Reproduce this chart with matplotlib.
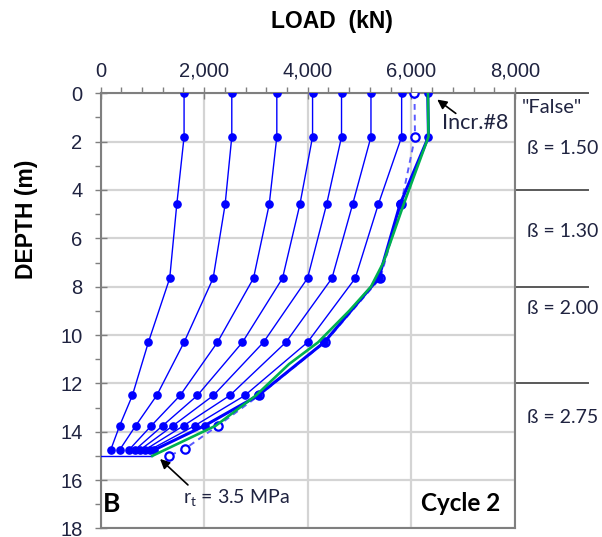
import matplotlib
matplotlib.use("Agg")
import matplotlib.pyplot as plt
from matplotlib.ticker import MultipleLocator, FuncFormatter
import matplotlib.transforms as mtransforms

# ---------------- data ----------------
depth = [0, 1.8, 4.6, 7.65, 10.3, 12.5, 13.75, 14.75]
incr1 = [1613, 1613, 1472, 1336, 924, 615, 370, 197]
incr2 = [2534, 2534, 2405, 2174, 1613, 1085, 680, 370]
incr3 = [3403, 3403, 3256, 2953, 2257, 1536, 982, 550]
incr4 = [4093, 4093, 3848, 3513, 2740, 1870, 1200, 667]
incr5 = [4652, 4652, 4363, 3996, 3146, 2179, 1400, 763]
incr6 = [5220, 5220, 4865, 4467, 3578, 2496, 1605, 860]
incr7 = [5812, 5812, 5361, 4917, 3996, 2786, 1820, 956]
incr8 = [6316, 6330, 5780, 5370, 4318, 3043, 2010, 1040]

false_depth = [0, 1.8, 4.6, 7.65, 10.3, 12.5, 13.75, 14.7, 15.0]
false_load = [6060, 6070, 5800, 5400, 4330, 3060, 2266, 1636, 1320]

fit_depth = [0, 1.8, 4.6, 7.0, 8.0, 9.0, 10.3, 11.2, 12.5, 13.75, 15.0]
fit_load = [6320, 6330, 5850, 5460, 5220, 4800, 4200, 3640, 3000, 2225, 1000]

toe_depth = [15.0, 15.0]
toe_load = [0, 1000]

zone_bounds = [0, 4, 8, 12]
zone_labels = ['"False"', "ß = 1.50", "ß = 1.30", "ß = 2.00", "ß = 2.75"]
zone_label_depth = [0.6, 2.3, 5.7, 8.9, 13.4]

# ---------------- figure ----------------
W, H = 602, 537
fig = plt.figure(figsize=(W / 100, H / 100), dpi=100)
ax_l, ax_r, ax_t, ax_b = 100.5, 515, 93.3, 528.4
ax = fig.add_axes([ax_l / W, 1 - ax_b / H, (ax_r - ax_l) / W, (ax_b - ax_t) / H])

blue = "#0000ff"
green = "#00b050"
txtc = "#1f2340"
ann_font = ["Lato", "DejaVu Sans"]
arial = ["Liberation Sans", "DejaVu Sans"]

ax.set_xlim(0, 8000)
ax.set_ylim(18, 0)

for ld in [incr1, incr2, incr3, incr4, incr5, incr6, incr7]:
    ax.plot(ld, depth, color=blue, lw=1.0, marker="o", ms=5.2, mec=blue, mfc=blue, zorder=3)
ax.plot(toe_load, toe_depth, color=blue, lw=1.0, zorder=3)
ax.plot(false_load, false_depth, color="#5a5aff", lw=1.4, ls=(0, (3, 2.5)), marker="o",
        ms=6, mfc="white", mec=blue, mew=1.6, zorder=4)
ax.plot(incr8, depth, color=blue, lw=2.2, marker="o", ms=5.2, mec=blue, mfc=blue, zorder=5)
ax.plot(fit_load, fit_depth, color=green, lw=1.9, zorder=6)

# axes styling
ax.xaxis.set_major_locator(MultipleLocator(2000))
ax.xaxis.set_minor_locator(MultipleLocator(400))
ax.yaxis.set_major_locator(MultipleLocator(2))
ax.yaxis.set_minor_locator(MultipleLocator(1))
ax.xaxis.set_major_formatter(FuncFormatter(lambda v, p: f"{int(v):,}"))
ax.xaxis.tick_top()
ax.grid(True, which="major", color="#d4d4d4", lw=1.6, zorder=0)
ax.set_axisbelow(True)
for s in ax.spines.values():
    s.set_color("#7f7f7f")
    s.set_linewidth(1.5)
ax.tick_params(axis="both", which="major", direction="inout", length=8, width=1.0,
               color="#7f7f7f", labelsize=14.5, labelcolor=txtc)
ax.tick_params(axis="both", which="minor", direction="out", length=4, width=1.0, color="#7f7f7f")
ax.tick_params(axis="x", which="major", pad=5)
ax.tick_params(axis="y", which="major", pad=9)
for lab in ax.get_xticklabels() + ax.get_yticklabels():
    lab.set_family(arial)

fig.text(332 / W, 1 - 21.5 / H, "LOAD  (kN)", ha="center", va="center", fontsize=16.5,
         fontweight="bold", family=arial)
fig.text(27 / W, 1 - 219 / H, "DEPTH (m)", ha="center", va="center", rotation=90,
         fontsize=16.5, fontweight="bold", family=arial)

# right-side zone lines and labels
trans = mtransforms.blended_transform_factory(ax.transAxes, ax.transData)
for zb in zone_bounds:
    ax.plot([1.0, 1.176], [zb, zb], transform=trans, color="#595959", lw=1.4, clip_on=False)
for i, (lab, zd) in enumerate(zip(zone_labels, zone_label_depth)):
    ax.text(1.017 if i == 0 else 1.029, zd, lab, transform=trans, ha="left", va="center",
            fontsize=14.5 if i == 0 else 14, color=txtc, family=ann_font)

# annotations
ax.annotate("", xy=(6456, 0.19), xytext=(6900, 0.9),
            arrowprops=dict(arrowstyle="-|>", color="black", lw=1.2, mutation_scale=14))
ax.text(6591, 1.23, "Incr.#8", ha="left", va="center", fontsize=15.5, color=txtc, family=ann_font)

ax.annotate("", xy=(1110, 15.05), xytext=(1727, 16.28),
            arrowprops=dict(arrowstyle="-|>", color="black", lw=1.2, mutation_scale=14))
ax.text(1592, 16.74, r"r$_\mathregular{t}$ = 3.5 MPa", ha="left", va="center", fontsize=14,
        color=txtc, family=ann_font)

ax.text(48, 17.0, "B", ha="left", va="center", fontsize=19, fontweight="bold",
        color="black", family=ann_font)
ax.text(7710, 16.95, "Cycle 2", ha="right", va="center", fontsize=17.5, fontweight="bold",
        color="black", family=ann_font)

fig.savefig("out.png", dpi=100)
